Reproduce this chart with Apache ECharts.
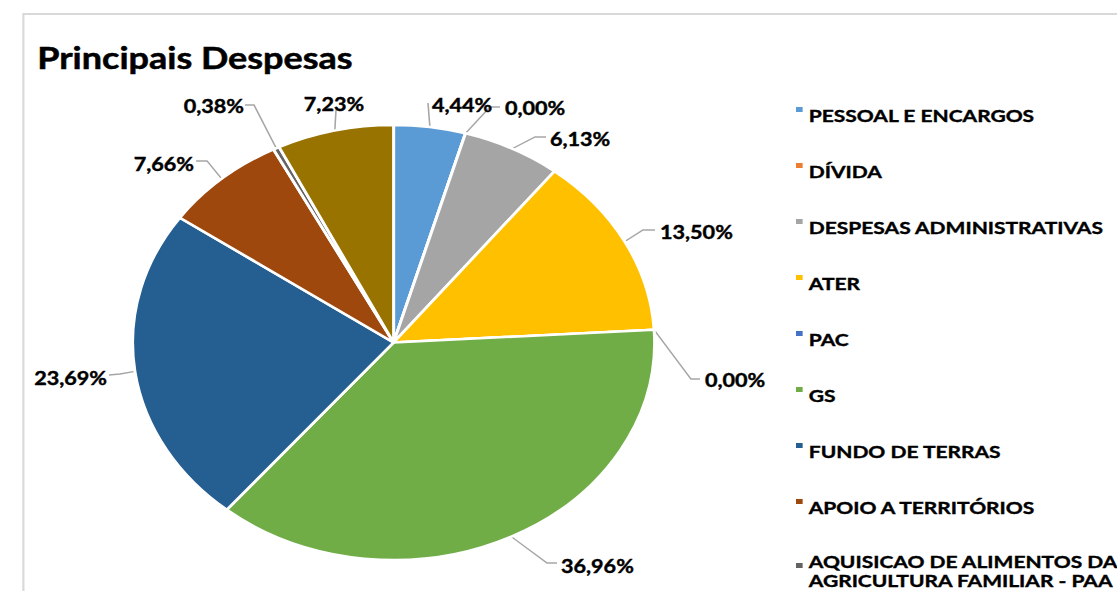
<!DOCTYPE html>
<html>
<head>
<meta charset="utf-8">
<script src="https://cdn.jsdelivr.net/npm/echarts@6/dist/echarts.min.js"></script>
<style>
html,body{margin:0;padding:0;background:#fff;overflow:hidden;width:1117px;height:591px;}
#main{width:931px;height:591px;transform:scaleX(1.2);transform-origin:0 0;}
</style>
</head>
<body>
<div id="main"></div>
<script>
const titleText = 'Principais Despesas';
const categories = [
  'PESSOAL E ENCARGOS',
  'DÍVIDA',
  'DESPESAS ADMINISTRATIVAS',
  'ATER',
  'PAC',
  'GS',
  'FUNDO DE TERRAS',
  'APOIO A TERRITÓRIOS',
  'AQUISICAO DE ALIMENTOS DA\nAGRICULTURA FAMILIAR - PAA',
  'OUTROS'
];
const values = [4.44, 0.00, 6.13, 13.50, 0.00, 36.96, 23.69, 7.66, 0.38, 7.23];
const colors = ['#5B9BD5','#ED7D31','#A5A5A5','#FFC000','#4472C4','#70AD47','#255E91','#9E480E','#636363','#997300'];

// label placement (picture pixels): leader-line elbow, line end, text anchor, alignment
const SX = 1.2;
const labelPlacement = [
  {elbow: [428, 103], end: [428, 103], text: [432, 105], align: 'left',  va: 'middle'},
  {elbow: [490, 107], end: [500, 107], text: [505, 108], align: 'left',  va: 'middle'},
  {elbow: [535, 137], end: [546, 137], text: [550, 139], align: 'left',  va: 'middle'},
  {elbow: [643, 230], end: [655, 230], text: [660, 232], align: 'left',  va: 'middle'},
  {elbow: [691, 379], end: [700, 379], text: [705, 380], align: 'left',  va: 'middle'},
  {elbow: [547, 563], end: [557, 563], text: [561, 566], align: 'left',  va: 'middle'},
  {elbow: [120, 374], end: [109, 375], text: [107, 378], align: 'right', va: 'middle'},
  {elbow: [207, 161], end: [196, 161], text: [194, 164], align: 'right', va: 'middle'},
  {elbow: [254, 105], end: [245, 105], text: [244, 106], align: 'right', va: 'middle'},
  {elbow: [336, 110], end: [336, 110], text: [334, 113], align: 'center', va: 'bottom'}
];

const FONT = 'Lato';
const chart = echarts.init(document.getElementById('main'), null, {renderer: 'svg'});
const pieData = categories.map((c, i) => ({name: c, value: values[i]}));
// legend marker: small square sitting at the top of a transparent 6x16 box
const markerIcon = color => 'image://data:image/svg+xml;utf8,' + encodeURIComponent(
  "<svg xmlns='http://www.w3.org/2000/svg' width='6' height='16' viewBox='0 0 6 16'>" +
  "<rect x='0' y='0' width='6' height='5' fill='" + color + "'/></svg>");
const legendData = categories.map((c, i) => {
  const item = {name: c, icon: markerIcon(colors[i])};
  if (c.indexOf('\n') >= 0) item.textStyle = {lineHeight: 19};
  return item;
});

chart.setOption({
  animation: false,
  color: colors,
  graphic: [{
    type: 'rect', z: -1, silent: true,
    shape: {x: 19.5, y: 14, width: 1000, height: 700},
    style: {fill: '#fff', stroke: '#D9D9D9', lineWidth: 1.8}
  }],
  title: {
    text: titleText, left: 26, top: 37,
    textStyle: {fontFamily: FONT, fontWeight: 'bold', fontSize: 30, color: '#000',
      textBorderColor: '#000', textBorderWidth: 0.5}
  },
  legend: {
    orient: 'vertical', left: 658, top: 99, height: 900,
    itemWidth: 6, itemHeight: 16, itemGap: 34,
    data: legendData,
    selectedMode: false,
    textStyle: {fontFamily: FONT, fontWeight: 'bold', fontSize: 17.5, color: '#000', lineHeight: 22,
      textBorderColor: '#000', textBorderWidth: 0.4}
  },
  series: [{
    type: 'pie',
    center: [328, 342.5],
    radius: 217.5,
    startAngle: 90,
    clockwise: true,
    avoidLabelOverlap: false,
    data: pieData,
    itemStyle: {borderColor: '#fff', borderWidth: 2.5},
    emphasis: {disabled: true},
    label: {
      show: true, position: 'outside',
      formatter: p => p.value.toFixed(2).replace('.', ',') + '%',
      fontFamily: FONT, fontWeight: 'bold', fontSize: 18, color: '#000',
      textBorderColor: '#000', textBorderWidth: 0.4
    },
    labelLine: {show: true, length: 12, length2: 10, lineStyle: {color: '#A6A6A6', width: 1.3}},
    labelLayout: function (params) {
      const p = labelPlacement[params.dataIndex];
      const start = params.labelLinePoints ? params.labelLinePoints[0] : [p.elbow[0] / SX, p.elbow[1]];
      return {
        x: p.text[0] / SX,
        y: p.text[1],
        align: p.align,
        verticalAlign: p.va,
        labelLinePoints: [start, [p.elbow[0] / SX, p.elbow[1]], [p.end[0] / SX, p.end[1]]]
      };
    }
  }]
});
</script>
</body>
</html>
